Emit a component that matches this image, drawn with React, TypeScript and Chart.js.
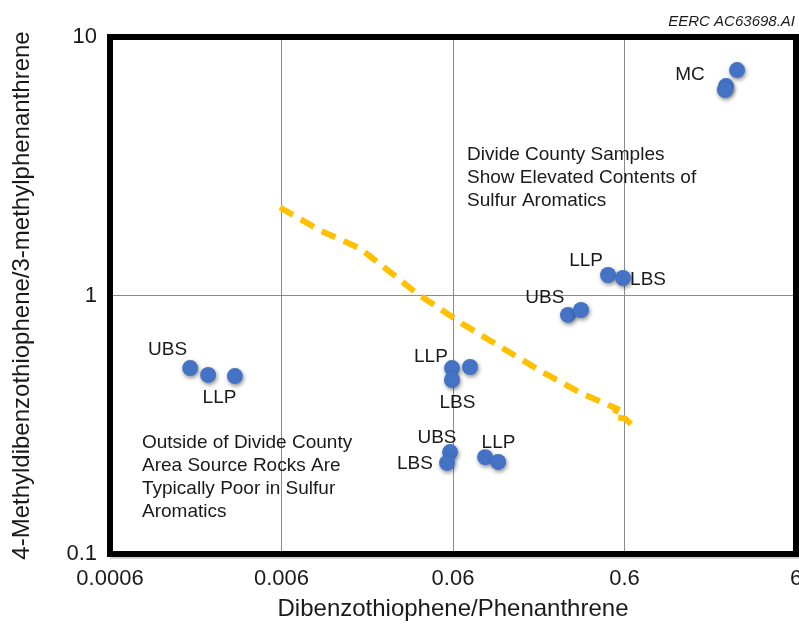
import React, { useEffect, useRef } from "react";
import { Chart, registerables } from "chart.js";

Chart.register(...registerables);

// ---- axis ticks ----
const xTickValues = [0.0006, 0.006, 0.06, 0.6, 6];
const xTickLabels = ["0.0006", "0.006", "0.06", "0.6", "6"];
const yTickValues = [0.1, 1, 10];
const yTickLabels = ["0.1", "1", "10"];

// ---- samples: Dibenzothiophene/Phenanthrene vs 4-MDBT/3-MP ----
const sampleX = [
  0.00176, 0.00224, 0.00321,
  0.0592, 0.0592, 0.0754,
  0.0577, 0.0554, 0.0923, 0.110,
  0.281, 0.3346, 0.481, 0.588,
  2.72, 2.345, 2.31,
];
const sampleY = [
  0.524, 0.493, 0.488,
  0.524, 0.471, 0.529,
  0.248, 0.225, 0.237, 0.227,
  0.841, 0.879, 1.2, 1.169,
  7.45, 6.46, 6.24,
];

// ---- dashed boundary line ----
const boundaryX = [0.00588, 0.01006, 0.01446, 0.0172, 0.0283, 0.037, 0.06, 0.0677, 0.0986, 0.193, 0.33, 0.542, 0.514, 0.604, 0.7];
const boundaryY = [2.19, 1.786, 1.605, 1.521, 1.175, 1.018, 0.822, 0.779, 0.67, 0.512, 0.421, 0.365, 0.34, 0.334, 0.305];

// ---- point labels ----
const pointLabels = ["UBS", "LLP", "LLP", "LBS", "UBS", "LBS", "LLP", "UBS", "LLP", "LBS", "MC"];
const pointLabelX = [0.0013, 0.00261, 0.0446, 0.0637, 0.0484, 0.036, 0.1105, 0.206, 0.358, 0.823, 1.446];
const pointLabelY = [0.615, 0.401, 0.578, 0.386, 0.282, 0.223, 0.269, 0.978, 1.36, 1.148, 7.13];

// ---- notes ----
const noteDivide = ["Divide County Samples", "Show Elevated Contents of", "Sulfur Aromatics"];
const noteDivideAt = [0.0724, 3.5];
const noteOutside = ["Outside of Divide County", "Area Source Rocks Are", "Typically Poor in Sulfur", "Aromatics"];
const noteOutsideAt = [0.000922, 0.27];
const figureId = "EERC AC63698.AI";

const xTitle = "Dibenzothiophene/Phenanthrene";
const yTitle = "4-Methyldibenzothiophene/3-methylphenanthrene";

const FONT = '"Liberation Sans", Arial, Helvetica, sans-serif';
const TEXT = "#1a1a1a";

const decorPlugin = {
  id: "decor",
  beforeDatasetDraw(chart: any, args: any) {
    if (args.index === 0) {
      const ctx = chart.ctx;
      ctx.save();
      ctx.shadowColor = "rgba(0,0,0,0.45)";
      ctx.shadowBlur = 4;
      ctx.shadowOffsetX = 1;
      ctx.shadowOffsetY = 2;
    }
  },
  afterDatasetDraw(chart: any, args: any) {
    if (args.index === 0) chart.ctx.restore();
  },
  afterDraw(chart: any) {
    const ctx = chart.ctx;
    const xs = chart.scales.x;
    const ys = chart.scales.y;
    const a = chart.chartArea;
    ctx.save();
    // frame
    ctx.strokeStyle = "#000";
    ctx.lineWidth = 6;
    ctx.strokeRect(a.left, a.top, a.right - a.left, a.bottom - a.top);
    ctx.strokeStyle = "rgba(0,0,0,0.35)";
    ctx.lineWidth = 1;
    ctx.beginPath();
    ctx.moveTo(a.left, a.bottom + 4);
    ctx.lineTo(a.right + 3, a.bottom + 4);
    ctx.stroke();

    ctx.fillStyle = TEXT;
    ctx.font = `19px ${FONT}`;
    ctx.textAlign = "center";
    ctx.textBaseline = "middle";
    pointLabels.forEach((t, i) => {
      ctx.fillText(t, xs.getPixelForValue(pointLabelX[i]), ys.getPixelForValue(pointLabelY[i]));
    });

    ctx.textAlign = "left";
    const drawNote = (lines: string[], at: number[]) => {
      const x = xs.getPixelForValue(at[0]);
      const y = ys.getPixelForValue(at[1]);
      lines.forEach((l, i) => ctx.fillText(l, x, y + i * 23));
    };
    drawNote(noteDivide, noteDivideAt);
    drawNote(noteOutside, noteOutsideAt);

    ctx.font = `italic 15px ${FONT}`;
    ctx.textAlign = "right";
    ctx.textBaseline = "alphabetic";
    ctx.fillText(figureId, 795, 26);
    ctx.restore();
  },
};

export default function App() {
  const ref = useRef<HTMLCanvasElement | null>(null);

  useEffect(() => {
    document.body.style.margin = "0";
    const canvas = ref.current;
    if (!canvas) return;
    const gridColor = (c: any) => {
      const n = c.chart && c.scale ? c.scale.ticks.length : 0;
      return c.index === 0 || c.index === n - 1 ? "rgba(0,0,0,0)" : "#8a8a8a";
    };
    const chart = new Chart(canvas, {
      type: "scatter",
      data: {
        datasets: [
          {
            label: "Samples",
            data: sampleX.map((x, i) => ({ x, y: sampleY[i] })),
            backgroundColor: "#4472C4",
            borderWidth: 0,
            pointRadius: 8,
            order: 0,
          },
          {
            label: "Boundary",
            data: boundaryX.map((x, i) => ({ x, y: boundaryY[i] })),
            showLine: true,
            borderColor: "#FFC000",
            borderWidth: 6,
            borderDash: [15, 9],
            pointRadius: 0,
            fill: false,
            tension: 0,
            order: 1,
          } as any,
        ],
      },
      options: {
        animation: false,
        responsive: false,
        maintainAspectRatio: false,
        layout: { autoPadding: false, padding: { left: 0, right: 3, top: 37, bottom: 0 } },
        plugins: { legend: { display: false }, tooltip: { enabled: false } },
        scales: {
          x: {
            type: "logarithmic",
            min: xTickValues[0],
            max: xTickValues[xTickValues.length - 1],
            afterBuildTicks: (s: any) => {
              s.ticks = xTickValues.map((v) => ({ value: v }));
            },
            afterFit: (s: any) => {
              s.height = 70;
              s.paddingLeft = 0;
              s.paddingRight = 0;
            },
            ticks: {
              autoSkip: false,
              maxRotation: 0,
              padding: 12,
              color: TEXT,
              font: { family: FONT, size: 22 },
              callback: (_v: any, i: number) => xTickLabels[i],
            },
            grid: { color: gridColor, lineWidth: 1, drawTicks: false },
            border: { display: false },
            title: {
              display: true,
              text: xTitle,
              color: TEXT,
              font: { family: FONT, size: 24 },
              padding: { top: 0, bottom: 0 },
            },
          },
          y: {
            type: "logarithmic",
            min: yTickValues[0],
            max: yTickValues[yTickValues.length - 1],
            afterBuildTicks: (s: any) => {
              s.ticks = yTickValues.map((v) => ({ value: v }));
            },
            afterFit: (s: any) => {
              s.width = 110;
              s.paddingTop = 0;
              s.paddingBottom = 0;
            },
            ticks: {
              autoSkip: false,
              padding: 13,
              color: TEXT,
              font: { family: FONT, size: 22 },
              callback: (_v: any, i: number) => yTickLabels[i],
            },
            grid: { color: gridColor, lineWidth: 1, drawTicks: false },
            border: { display: false },
            title: {
              display: true,
              text: yTitle,
              color: TEXT,
              font: { family: FONT, size: 24 },
              padding: { top: 8, bottom: 0 },
            },
          },
        },
      },
      plugins: [decorPlugin],
    });
    return () => chart.destroy();
  }, []);

  return (
    <div style={{ width: 799, height: 624, background: "#fff" }}>
      <canvas ref={ref} width={799} height={624} style={{ display: "block" }} />
    </div>
  );
}
